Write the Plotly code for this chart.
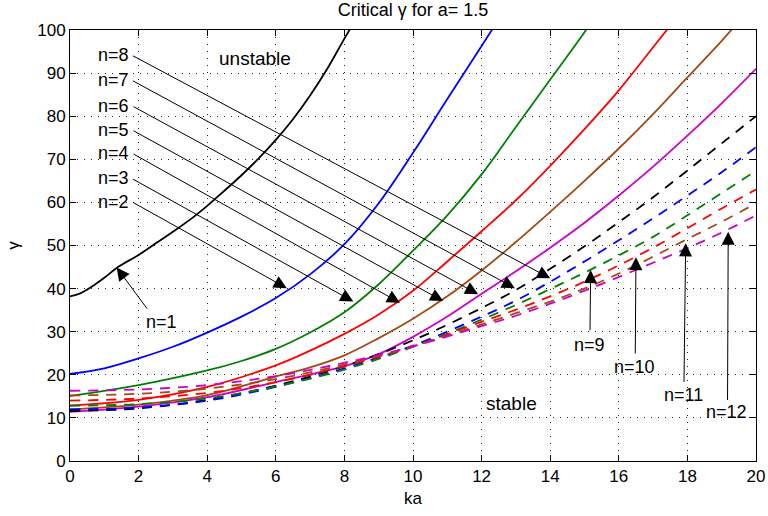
import plotly.graph_objects as go

# ---------------- data ----------------
# solid curves n=1..6
ka_n1 = [0, 0.3, 0.7, 1.0, 1.4, 2.0, 2.5, 3.0, 3.5, 4.0, 4.5, 5.0, 5.5, 6.0, 6.5, 7.0, 7.5, 8.0, 8.3]
g_n1 = [38.2, 38.9, 40.8, 42.5, 45.0, 47.8, 50.5, 53.2, 56.0, 59.2, 62.7, 66.3, 70.2, 74.5, 79.3, 84.8, 91.0, 98.0, 102.0]

ka_n2 = [0, 1, 2, 3, 4, 5, 6, 7, 8, 9, 10, 11, 12, 12.5]
g_n2 = [20.2, 21.5, 23.8, 26.5, 29.8, 33.5, 37.8, 43.3, 50.3, 59.8, 71.5, 84.0, 96.3, 102.5]

ka_n3 = [0, 2, 4, 5, 6, 7, 8, 9, 10, 11, 12, 13, 14, 15, 15.3]
g_n3 = [15.1, 17.6, 21.0, 23.2, 26.0, 29.8, 34.5, 41.0, 48.8, 57.0, 66.5, 77.5, 88.5, 99.5, 103.0]

ka_n4 = [0, 2, 4, 6, 7, 8, 9, 10, 11, 12, 13, 14, 15, 16, 17, 17.6]
g_n4 = [12.9, 14.2, 17.2, 22.2, 25.6, 29.5, 34.0, 39.5, 46.3, 53.3, 60.5, 68.5, 77.0, 86.0, 96.0, 102.0]

ka_n5 = [0, 2, 4, 6, 7, 8, 9, 10, 11, 12, 13, 14, 15, 16, 17, 18, 19, 19.5]
g_n5 = [12.0, 13.1, 15.3, 19.6, 21.7, 24.5, 28.5, 33.0, 38.2, 44.2, 50.8, 57.8, 65.0, 72.5, 80.5, 89.0, 97.5, 102.0]

ka_n6 = [0, 2, 4, 6, 8, 9, 10, 11, 12, 13, 14, 15, 16, 17, 18, 19, 20]
g_n6 = [11.4, 12.6, 14.8, 18.3, 22.0, 24.8, 28.8, 33.5, 38.8, 44.0, 49.5, 55.3, 61.6, 68.3, 75.5, 83.0, 91.0]

# dashed curves n=7..12
ka_d = [0, 2, 4, 6, 8, 10, 12, 13, 14, 15, 16, 17, 18, 19, 20]
g_n7 = [11.6, 12.2, 14.2, 17.5, 22.0, 28.0, 35.5, 39.7, 44.6, 49.8, 55.4, 61.2, 67.4, 73.7, 80.0]
g_n8 = [12.0, 12.4, 14.0, 17.2, 21.5, 26.8, 33.5, 37.2, 41.6, 46.3, 51.2, 56.3, 61.6, 67.0, 72.8]
g_n9 = [12.8, 13.2, 14.5, 17.3, 21.2, 26.5, 32.8, 36.2, 39.9, 43.7, 47.7, 52.0, 57.0, 62.2, 67.3]
g_n10 = [14.0, 14.5, 15.8, 18.3, 22.0, 26.6, 32.3, 35.1, 38.2, 41.6, 45.4, 49.5, 54.0, 58.6, 63.0]
g_n11 = [15.2, 15.6, 16.8, 19.0, 22.4, 26.6, 31.7, 34.3, 37.0, 40.0, 43.5, 47.4, 51.5, 55.5, 59.8]
g_n12 = [16.3, 16.6, 17.6, 19.7, 22.8, 26.6, 31.3, 33.7, 36.5, 39.5, 42.7, 46.0, 49.4, 53.0, 57.0]

solid_x = [ka_n1, ka_n2, ka_n3, ka_n4, ka_n5, ka_n6]
solid_y = [g_n1, g_n2, g_n3, g_n4, g_n5, g_n6]
dashed_y = [g_n7, g_n8, g_n9, g_n10, g_n11, g_n12]
series_names = ["n=%d" % i for i in range(1, 13)]
colors = ["#000000", "#0000ff", "#008000", "#ff0000", "#a04a14", "#cc00cc"]

# annotation labels: text, text position, arrow tail, arrow tip (data units)
lab_text = ["n=1", "n=2", "n=3", "n=4", "n=5", "n=6", "n=7", "n=8", "n=9", "n=10", "n=11", "n=12"]
lab_x = [2.67, 1.77, 1.77, 1.79, 1.79, 1.79, 1.77, 1.77, 15.16, 16.47, 17.88, 19.14]
lab_y = [32.3, 60.2, 65.6, 71.4, 76.8, 82.4, 88.4, 94.2, 26.9, 21.9, 15.3, 11.3]
tail_x = [2.28, 1.79, 1.79, 1.81, 1.81, 1.81, 1.79, 1.79, 15.16, 16.48, 17.90, 19.17]
tail_y = [35.0, 60.2, 65.6, 71.4, 76.8, 82.4, 88.4, 94.2, 30.0, 24.6, 18.0, 13.8]
tip_x = [1.36, 6.32, 8.26, 9.62, 10.88, 11.90, 12.97, 14.00, 15.18, 16.50, 17.95, 19.19]
tip_y = [44.9, 40.1, 37.0, 36.7, 37.1, 38.7, 40.1, 42.4, 44.3, 47.3, 50.5, 53.2]
left_labels = {1, 2, 3, 4, 5, 6, 7}

region_text = ["unstable", "stable"]
region_x = [5.39, 12.88]
region_y = [93.4, 13.4]

# ---------------- figure ----------------
FONT = "Liberation Sans, Arial, Helvetica, sans-serif"
fig = go.Figure()

for i in range(6):
    fig.add_trace(go.Scatter(
        x=solid_x[i], y=solid_y[i], mode="lines", name=series_names[i],
        line=dict(color=colors[i], width=1.8, shape="spline", smoothing=1.0),
        showlegend=False))
for i in range(6):
    fig.add_trace(go.Scatter(
        x=ka_d, y=dashed_y[i], mode="lines", name=series_names[6 + i],
        line=dict(color=colors[i], width=1.8, dash="10px,8px", shape="spline", smoothing=1.0),
        showlegend=False))

annotations = []
for i, t in enumerate(lab_text):
    annotations.append(dict(
        x=tip_x[i], y=tip_y[i], ax=tail_x[i], ay=tail_y[i],
        xref="x", yref="y", axref="x", ayref="y", text="",
        showarrow=True, arrowhead=2, arrowsize=2.6, arrowwidth=1, arrowcolor="#000000",
        standoff=0, startstandoff=0))
    annotations.append(dict(
        x=lab_x[i], y=lab_y[i], xref="x", yref="y", text=t, showarrow=False,
        xanchor="right" if i in left_labels else "center", yanchor="middle",
        font=dict(family=FONT, size=18, color="#000000")))
for i, t in enumerate(region_text):
    annotations.append(dict(
        x=region_x[i], y=region_y[i], xref="x", yref="y", text=t, showarrow=False,
        xanchor="center", yanchor="middle",
        font=dict(family=FONT, size=19, color="#000000")))

axis_common = dict(
    showline=True, linecolor="#000000", linewidth=1, mirror="allticks",
    ticks="inside", ticklen=6, tickcolor="#000000", tickwidth=1,
    showgrid=True, gridcolor="#222222", gridwidth=1, griddash="1px,6px",
    zeroline=False, automargin=False,
    tickfont=dict(family=FONT, size=17, color="#000000"),
)

fig.update_layout(
    width=768, height=516,
    margin=dict(l=70, r=12, t=30, b=55),
    paper_bgcolor="#ffffff", plot_bgcolor="#ffffff",
    title=dict(text="Critical γ for a= 1.5", x=0.5, xref="paper", xanchor="center",
               y=1, yref="paper", yanchor="bottom", pad=dict(b=14), automargin=False,
               font=dict(family=FONT, size=18, color="#000000")),
    xaxis=dict(range=[0, 20], dtick=2, tick0=0,
               title=dict(text="ka", standoff=6, font=dict(family=FONT, size=17, color="#000000")),
               **axis_common),
    yaxis=dict(range=[0, 100], dtick=10, tick0=0,
               title=dict(text="γ", standoff=13, font=dict(family=FONT, size=17, color="#000000")),
               **axis_common),
    annotations=annotations,
    showlegend=False,
)

# remove the browser's default body margin so the figure starts at the page corner
fig.write_html("out.html", config={"displayModeBar": False},
               post_script="document.body.style.margin='0px';")
